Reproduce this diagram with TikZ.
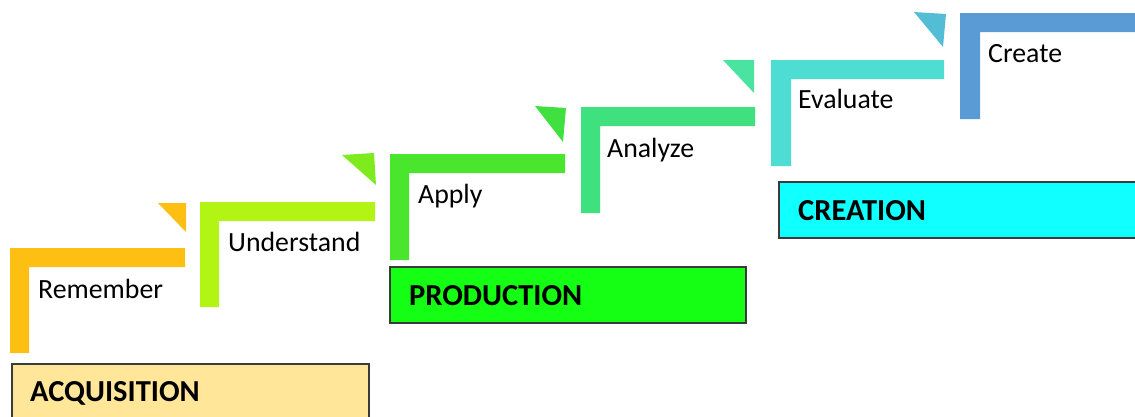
\documentclass[tikz,border=0pt]{standalone}
\usepackage{fontspec}
\setmainfont{Carlito}
\usepackage{tikz}
\usetikzlibrary{positioning}

\definecolor{orangeR}{HTML}{FDBF12}
\definecolor{limeU}{HTML}{B2F515}
\definecolor{limeTri}{HTML}{7EEB1E}
\definecolor{vertA}{HTML}{4AE62E}
\definecolor{vertTri}{HTML}{3FE03F}
\definecolor{vertAn}{HTML}{3FE07E}
\definecolor{vertAnTri}{HTML}{4BE3A0}
\definecolor{turqE}{HTML}{4DDDD2}
\definecolor{turqTri}{HTML}{52BDD5}
\definecolor{bleuC}{HTML}{5B9BD5}
\definecolor{fondAcq}{HTML}{FFE699}
\definecolor{fondProd}{HTML}{14FF14}
\definecolor{fondCrea}{HTML}{10FFFF}
\definecolor{bordPhase}{HTML}{3A3A3A}

\begin{document}
\begin{tikzpicture}[x=1pt,y=-1pt,
    niveau/.style={anchor=base west, inner sep=0pt, font=\fontsize{27.8}{32}\selectfont},
    phase/.style={draw=bordPhase, line width=1.5pt},
    titre/.style={anchor=base west, inner sep=0pt, font=\fontsize{30.5}{35}\selectfont\bfseries}]
        \useasboundingbox (0,0) rectangle (1135,416);

        % Marches
        \fill[orangeR] (10,248) -- (185,248) -- (185,267) -- (29,267) -- (29,353) -- (10,353) -- cycle;
        \fill[limeU] (200,202) -- (375,202) -- (375,221) -- (219,221) -- (219,307) -- (200,307) -- cycle;
        \fill[vertA] (390,154) -- (565,154) -- (565,173) -- (409,173) -- (409,260) -- (390,260) -- cycle;
        \fill[vertAn] (581,107) -- (755,107) -- (755,126) -- (600,126) -- (600,213) -- (581,213) -- cycle;
        \fill[turqE] (771,60) -- (944,60) -- (944,79) -- (791,79) -- (791,166) -- (771,166) -- cycle;
        \fill[bleuC] (960,13) -- (1140,13) -- (1140,32) -- (980,32) -- (980,119) -- (960,119) -- cycle;

        % Coins
        \fill[orangeR] (158,203) -- (186,203) -- (186,232) -- cycle;
        \fill[limeTri] (342,155) -- (374,153) -- (376,185) -- cycle;
        \fill[vertTri] (535,106) -- (566,108) -- (563,142) -- cycle;
        \fill[vertAnTri] (723,60) -- (754,60) -- (754,93) -- cycle;
        \fill[turqTri] (914,12) -- (946,14) -- (943,47) -- cycle;

        % Niveaux
        \node[niveau] (remember) at (38,298) {Remember};
        \node[niveau] (understand) at (228,251) {Understand};
        \node[niveau] (apply) at (418,203) {Apply};
        \node[niveau] (analyze) at (607,157) {Analyze};
        \node[niveau] (evaluate) at (798,108) {Evaluate};
        \node[niveau] (create) at (988,62) {Create};

        % Phases
        \filldraw[phase, fill=fondAcq] (12,364) rectangle (369,440);
        \filldraw[phase, fill=fondProd] (390,267) rectangle (746,323);
        \filldraw[phase, fill=fondCrea] (779,182) rectangle (1150,238);
        \node[titre] (acquisition) at (30,401) {ACQUISITION};
        \node[titre] (production) at (409,305) {PRODUCTION};
        \node[titre] (creation) at (798,220) {CREATION};
    \end{tikzpicture}
\end{document}
